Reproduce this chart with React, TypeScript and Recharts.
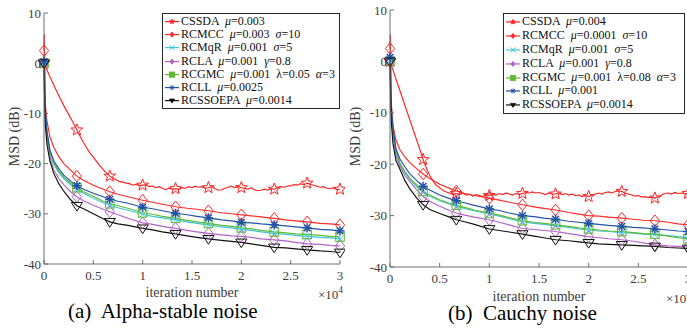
import React from 'react';
import { ComposedChart, Line, Scatter, XAxis, YAxis, Legend } from 'recharts';

// ---------- data ----------
// x in units of 10^4 iterations
const GRID = [0, 0.004, 0.012, 0.03, 0.06, 0.1, 0.15, 0.2, 0.27, 1 / 3, 0.4, 0.5, 0.6, 2 / 3, 0.75, 0.85, 1, 1.1, 1.2, 4 / 3,
  1.45, 1.55, 5 / 3, 1.8, 1.9, 2, 2.1, 2.2, 7 / 3, 2.45, 2.55, 8 / 3, 2.8, 2.9, 3];
const CSSDA_GRID = Array.from({ length: 91 }, (_, k) => k / 30);

const X_TICKS = [0, 0.5, 1, 1.5, 2, 2.5, 3];
const X_TICK_LABELS = ['0', '0.5', '1', '1.5', '2', '2.5', '3'];
const Y_TICKS = [-40, -30, -20, -10, 0, 10];

const NAMES = ['CSSDA', 'RCMCC', 'RCMqR', 'RCLA', 'RCGMC', 'RCLL', 'RCSSOEPA'];
const A_PARAMS = ['μ=0.003', 'μ=0.003  σ=10', 'μ=0.001  σ=5', 'μ=0.001  γ=0.8', 'μ=0.001  λ=0.05  α=3', 'μ=0.0025', 'μ=0.0014'];
const B_PARAMS = ['μ=0.004', 'μ=0.0001  σ=10', 'μ=0.001  σ=5', 'μ=0.001  γ=0.8', 'μ=0.001  λ=0.08  α=3', 'μ=0.001', 'μ=0.0014'];
const COLORS = ['#ff2222', '#ff2a2a', '#3fc6dc', '#b462c6', '#5cba33', '#2152a8', '#111111'];
const MARKERS = ['star', 'diamond', 'x', 'diamond', 'square', 'asterisk', 'triDown'];

// (a) Alpha-stable noise
const A_CSSDA = [
  0, -1.5, -3.0, -4.4, -5.8, -7.1, -8.4, -9.6, -10.8, -12.0, -13.3,
  -14.6, -15.8, -16.9, -17.9, -18.7, -19.6, -20.4, -21.2, -21.9, -22.5,
  -22.9, -23.2, -23.6, -23.7, -23.9, -24.0, -24.3, -24.1, -24.4, -24.3,
  -24.2, -24.6, -24.5, -24.8, -24.6, -24.9, -25.2, -24.9, -25.1, -25.0,
  -25.2, -24.8, -24.9, -24.6, -24.8, -24.5, -24.7, -24.6, -24.9, -24.8,
  -24.6, -25.0, -25.3, -25.2, -24.9, -24.7, -24.5, -24.8, -24.6, -24.8,
  -24.9, -25.1, -24.8, -25.2, -25.4, -25.3, -25.1, -25.3, -25.0, -25.1,
  -24.8, -24.6, -24.7, -24.5, -24.4, -24.2, -24.3, -24.0, -24.2, -23.9,
  -24.1, -24.3, -24.5, -24.7, -24.6, -24.9, -25.0, -24.8, -25.2, -25.1,
];
const A_RCMCC = [2.5, 5.8, -8, -11.5, -14.7, -16.8, -18.6, -20.0, -21.3, -22.5,
  -23.3, -24.3, -25.1, -25.6, -26.1, -26.6, -27.3, -27.7, -28.1, -28.6,
  -28.9, -29.1, -29.4, -29.8, -30.0, -30.2, -30.4, -30.6, -30.9, -31.2,
  -31.4, -31.6, -31.9, -32.0, -32.2];
const A_RCMQR = [0, -3, -9.8, -14, -17.8, -20.2, -21.8, -23.0, -24.2, -25.1,
  -25.9, -26.9, -27.8, -28.3, -28.8, -29.3, -30.1, -30.5, -30.8, -31.2,
  -31.6, -31.9, -32.2, -32.6, -32.8, -33.1, -33.3, -33.6, -33.9, -34.1,
  -34.3, -34.5, -34.7, -34.8, -35.0];
const A_RCLA = [0, -4, -10.5, -14.8, -18.7, -21.3, -23.0, -24.2, -25.6, -26.6,
  -27.4, -28.3, -29.1, -29.6, -30.2, -30.9, -31.8, -32.1, -32.5, -32.9,
  -33.3, -33.6, -33.9, -34.2, -34.4, -34.5, -34.7, -35.0, -35.2, -35.4,
  -35.7, -36.0, -36.1, -36.3, -36.4];
const A_RCGMC = [0, -3, -9.5, -13.8, -17.6, -19.9, -21.5, -22.7, -23.9, -24.8,
  -25.6, -26.5, -27.5, -28.0, -28.4, -28.9, -29.8, -30.1, -30.5, -30.9,
  -31.3, -31.6, -31.9, -32.3, -32.5, -32.8, -33.0, -33.3, -33.6, -33.8,
  -34.0, -34.1, -34.3, -34.5, -34.6];
const A_RCLL = [0.3, 1.5, -9, -13.5, -17.3, -19.5, -21.0, -22.3, -23.5, -24.4,
  -25.1, -25.9, -26.6, -27.1, -27.5, -27.9, -28.7, -29.0, -29.4, -29.9,
  -30.2, -30.5, -30.8, -31.2, -31.4, -31.7, -31.8, -32.0, -32.2, -32.4,
  -32.6, -32.8, -33.1, -33.2, -33.4];
const A_RCSSOEPA = [0, -5, -12, -16.2, -19.5, -22.0, -24.0, -25.5, -27.2, -28.4,
  -29.0, -30.0, -31.0, -31.6, -32.0, -32.3, -32.9, -33.2, -33.6, -34.0,
  -34.4, -34.7, -35.0, -35.3, -35.5, -35.7, -36.0, -36.3, -36.7, -36.8,
  -37.0, -37.2, -37.4, -37.5, -37.7];

// (b) Cauchy noise
const B_CSSDA = [
  0, -1.9, -3.8, -5.7, -7.6, -9.5, -11.4, -13.3, -15.2, -17.1, -19.1,
  -20.8, -22.2, -23.3, -24.1, -24.6, -25.1, -25.4, -25.6, -25.9, -25.7,
  -25.9, -25.6, -26.0, -25.8, -26.2, -25.9, -26.1, -26.3, -25.9, -26.1,
  -25.8, -26.0, -25.7, -25.9, -25.6, -25.8, -26.0, -25.7, -25.9, -25.7,
  -25.5, -25.6, -25.4, -25.6, -25.5, -25.7, -25.9, -25.6, -25.8, -25.8,
  -25.6, -25.9, -25.7, -26.0, -25.8, -26.1, -26.0, -26.3, -26.1, -26.3,
  -26.0, -25.8, -25.6, -25.8, -25.5, -25.4, -25.6, -25.3, -25.2, -25.3,
  -25.6, -25.8, -26.0, -26.2, -26.1, -26.4, -26.3, -26.5, -26.4, -26.6,
  -26.3, -26.0, -25.7, -25.6, -25.8, -25.5, -25.7, -25.6, -25.8, -25.7,
];
const B_RCMCC = [2.5, 5.2, -8, -12.5, -15.3, -17.2, -18.6, -19.7, -20.9, -21.9,
  -22.8, -23.9, -24.7, -25.2, -25.7, -26.1, -26.6, -27.0, -27.4, -27.9,
  -28.3, -28.6, -28.9, -29.4, -29.7, -30.0, -30.1, -30.3, -30.5, -30.7,
  -30.9, -31.0, -31.3, -31.6, -31.8];
const B_RCMQR = [0, -3, -9.3, -13.8, -17.5, -20.0, -21.7, -23.0, -24.4, -25.5,
  -26.2, -27.1, -27.8, -28.2, -28.6, -29.1, -29.7, -30.1, -30.6, -31.2,
  -31.5, -31.7, -32.0, -32.3, -32.6, -32.8, -33.0, -33.1, -33.3, -33.4,
  -33.6, -33.7, -33.9, -34.1, -34.3];
const B_RCLA = [0, -4, -10, -14.5, -18.3, -20.4, -22.2, -23.4, -25.0, -26.3,
  -27.2, -28.2, -29.0, -29.5, -29.9, -30.3, -30.8, -31.3, -31.8, -32.5,
  -32.7, -32.9, -33.1, -33.5, -33.8, -34.1, -34.3, -34.5, -34.7, -35.0,
  -35.3, -35.7, -35.9, -36.0, -36.1];
const B_RCGMC = [0, -3, -9, -13.5, -17.3, -19.8, -21.4, -22.7, -24.1, -25.3,
  -26.0, -26.9, -27.6, -28.0, -28.4, -28.9, -29.5, -29.9, -30.4, -31.0,
  -31.3, -31.5, -31.8, -32.1, -32.4, -32.6, -32.8, -33.0, -33.1, -33.3,
  -33.5, -33.6, -34.0, -34.3, -34.5];
const B_RCLL = [0.8, 1.5, -8.5, -12.8, -17.0, -19.0, -20.5, -21.9, -23.2, -24.3,
  -25.0, -26.0, -26.7, -27.1, -27.5, -28.0, -28.7, -29.0, -29.5, -30.0,
  -30.2, -30.5, -30.7, -31.1, -31.3, -31.5, -31.7, -31.9, -32.1, -32.3,
  -32.4, -32.6, -32.8, -33.0, -33.1];
const B_RCSSOEPA = [0, -5, -11.5, -16, -19.3, -21.0, -23.2, -24.8, -26.6, -27.9,
  -28.8, -29.6, -30.3, -30.8, -31.2, -31.7, -32.6, -32.9, -33.2, -33.6,
  -34.0, -34.3, -34.7, -34.9, -35.1, -35.3, -35.5, -35.6, -35.7, -35.8,
  -35.9, -36.0, -36.2, -36.3, -36.4];

const A_SERIES = [A_CSSDA, A_RCMCC, A_RCMQR, A_RCLA, A_RCGMC, A_RCLL, A_RCSSOEPA];
const B_SERIES = [B_CSSDA, B_RCMCC, B_RCMQR, B_RCLA, B_RCGMC, B_RCLL, B_RCSSOEPA];

// ---------- styling ----------
const SERIF = '"Liberation Serif", "Times New Roman", serif';
const AXIS_COLOR = '#6f6f6f';
const TICK_TEXT = '#3c3c3c';

function MarkerShape({ kind, cx, cy, color, s, filled }: any) {
  if (cx == null || cy == null) return null;
  const fill = filled ? color : 'none';
  const sw = filled ? 0.8 : 1;
  switch (kind) {
    case 'star': {
      const pts: string[] = [];
      for (let i = 0; i < 10; i++) {
        const r = i % 2 === 0 ? s : s * 0.42;
        const a = -Math.PI / 2 + (i * Math.PI) / 5;
        pts.push(`${cx + r * Math.cos(a)},${cy + r * Math.sin(a)}`);
      }
      return <polygon points={pts.join(' ')} fill={fill} stroke={color} strokeWidth={sw} />;
    }
    case 'diamond':
      return <polygon points={`${cx},${cy - s} ${cx + s * 0.8},${cy} ${cx},${cy + s} ${cx - s * 0.8},${cy}`} fill={fill} stroke={color} strokeWidth={sw} />;
    case 'square':
      return <rect x={cx - s} y={cy - s} width={2 * s} height={2 * s} fill={fill} stroke={color} strokeWidth={sw} />;
    case 'triDown':
      return <polygon points={`${cx - s},${cy - s * 0.6} ${cx + s},${cy - s * 0.6} ${cx},${cy + s * 0.95}`} fill={fill} stroke={color} strokeWidth={sw} />;
    case 'asterisk': {
      const d = s * 0.72;
      return (
        <g stroke={color} strokeWidth={filled ? 1 : 1.5}>
          <line x1={cx - s} y1={cy} x2={cx + s} y2={cy} />
          <line x1={cx} y1={cy - s} x2={cx} y2={cy + s} />
          <line x1={cx - d} y1={cy - d} x2={cx + d} y2={cy + d} />
          <line x1={cx - d} y1={cy + d} x2={cx + d} y2={cy - d} />
        </g>
      );
    }
    case 'x':
    default:
      return (
        <g stroke={color} strokeWidth={1}>
          <line x1={cx - s} y1={cy - s} x2={cx + s} y2={cy + s} />
          <line x1={cx - s} y1={cy + s} x2={cx + s} y2={cy - s} />
        </g>
      );
  }
}

const MARKER_SIZE: Record<string, number> = { star: 6.2, diamond: 5.8, x: 3.5, square: 4.3, asterisk: 4.6, triDown: 5.6 };

function Greek({ text }: { text: string }) {
  return (
    <>
      {Array.from(text).map((ch, i) =>
        'μσγα'.includes(ch) ? <i key={i}>{ch}</i> : <React.Fragment key={i}>{ch}</React.Fragment>
      )}
    </>
  );
}

function LegendBox({ params, rowH }: { params: string[]; rowH: number }) {
  return (
    <div
      style={{
        boxSizing: 'border-box',
        border: '1px solid #262626',
        background: '#fff',
        padding: '1px 0 1px 1px',
        fontFamily: SERIF,
        fontSize: 12,
        color: '#111',
        lineHeight: `${rowH}px`,
      }}
    >
      {NAMES.map((n, i) => (
        <div key={n} style={{ display: 'flex', alignItems: 'center', whiteSpace: 'pre', height: rowH }}>
          <svg width={16} height={rowH} style={{ flex: 'none' }}>
            <line x1={1} x2={15} y1={rowH / 2} y2={rowH / 2} stroke={COLORS[i]} strokeWidth={1.2} />
            <MarkerShape kind={MARKERS[i]} cx={8} cy={rowH / 2} color={COLORS[i]} s={2.6} filled />
          </svg>
          <span style={{ marginLeft: 1 }}>
            {n}
            {'  '}
            <Greek text={params[i]} />
          </span>
        </div>
      ))}
    </div>
  );
}

function isMarkerX(x: number) {
  return Math.abs(x * 3 - Math.round(x * 3)) < 1e-6;
}

type PanelProps = {
  left: number;
  width: number;
  margin: { top: number; right: number; bottom: number; left: number };
  series: number[][];
  params: string[];
  legend: { left: number; top: number; width: number; rowH: number };
  yLabelGap: number;
  xLabelDy: number;
};

function Panel({ left, width, margin, series, params, legend, yLabelGap, xLabelDy }: PanelProps) {
  const lines = series.map((vals, i) => {
    const xs = i === 0 ? CSSDA_GRID : GRID;
    return xs.map((x, k) => ({ x, y: vals[k] }));
  });

  const yLabel = (props: any) => {
    const vb = props.viewBox || { x: 0, y: 0, width: 0, height: 0 };
    const cx = vb.x + vb.width - yLabelGap;
    const cy = vb.y + vb.height / 2 - 2;
    return (
      <text x={cx} y={cy} transform={`rotate(-90 ${cx} ${cy})`} textAnchor="middle" fontFamily={SERIF} fontSize={14} fill={TICK_TEXT}>
        MSD (dB)
      </text>
    );
  };

  const xLabel = (props: any) => {
    const vb = props.viewBox || { x: 0, y: 0, width: 0, height: 0 };
    return (
      <g>
        <text x={vb.x + vb.width / 2} y={vb.y + xLabelDy} textAnchor="middle" fontFamily={SERIF} fontSize={14} fill={TICK_TEXT}>
          iteration number
        </text>
        <text x={vb.x + vb.width + 3} y={vb.y + xLabelDy + 2} textAnchor="end" fontFamily={SERIF} fontSize={13} fill={TICK_TEXT}>
          ×10
          <tspan dy={-6} fontSize={9.5}>4</tspan>
        </text>
      </g>
    );
  };

  return (
    <div style={{ position: 'absolute', left, top: 0 }}>
      <ComposedChart width={width} height={330} margin={margin}>
        <XAxis
          dataKey="x"
          type="number"
          domain={[0, 3]}
          ticks={X_TICKS}
          interval={0}
          height={30}
          tickSize={-4}
          tickMargin={11}
          stroke={AXIS_COLOR}
          tick={{ fill: TICK_TEXT, fontSize: 13, fontFamily: SERIF }}
          tickFormatter={(v: number) => X_TICK_LABELS[X_TICKS.indexOf(v)] ?? String(v)}
          label={xLabel}
        />
        <XAxis
          xAxisId="top"
          orientation="top"
          type="number"
          domain={[0, 3]}
          ticks={X_TICKS}
          interval={0}
          height={0}
          tickSize={-4}
          stroke={AXIS_COLOR}
          tickFormatter={() => ''}
        />
        <YAxis
          type="number"
          domain={[-40, 10]}
          ticks={Y_TICKS}
          interval={0}
          width={40}
          tickSize={-4}
          tickMargin={7}
          stroke={AXIS_COLOR}
          tick={{ fill: TICK_TEXT, fontSize: 13, fontFamily: SERIF }}
          label={yLabel}
        />
        <YAxis
          yAxisId="right"
          orientation="right"
          type="number"
          domain={[-40, 10]}
          ticks={Y_TICKS}
          interval={0}
          width={0}
          tickSize={-4}
          stroke={AXIS_COLOR}
          tickFormatter={() => ''}
        />
        {lines.map((pts, i) => (
          <Line
            key={`l${i}`}
            data={pts}
            dataKey="y"
            type="linear"
            stroke={COLORS[i]}
            strokeWidth={1.15}
            dot={false}
            activeDot={false}
            isAnimationActive={false}
          />
        ))}
        {lines.map((pts, i) => (
          <Scatter
            key={`m${i}`}
            data={pts.filter((p) => isMarkerX(p.x))}
            dataKey="y"
            isAnimationActive={false}
            shape={(p: any) => <MarkerShape kind={MARKERS[i]} cx={p.cx} cy={p.cy} color={COLORS[i]} s={MARKER_SIZE[MARKERS[i]]} />}
          />
        ))}
        <Legend
          layout="vertical"
          align="center"
          verticalAlign="middle"
          wrapperStyle={{ left: legend.left, top: legend.top, width: legend.width, right: 'auto', bottom: 'auto' }}
          content={() => <LegendBox params={params} rowH={legend.rowH} />}
        />
      </ComposedChart>
    </div>
  );
}

export default function App() {
  return (
    <div
      style={{
        position: 'absolute',
        left: 0,
        top: 0,
        width: 687,
        height: 330,
        overflow: 'hidden',
        background: '#fff',
      }}
    >
      <Panel
        left={0}
        width={345}
        margin={{ top: 13, right: 5, bottom: 36, left: 4 }}
        series={A_SERIES}
        params={A_PARAMS}
        legend={{ left: 162, top: 13, width: 178, rowH: 13.2 }}
        yLabelGap={25}
        xLabelDy={32.5}
      />
      <Panel
        left={345}
        width={345}
        margin={{ top: 10, right: 2, bottom: 33, left: 5 }}
        series={B_SERIES}
        params={B_PARAMS}
        legend={{ left: 158, top: 13, width: 182, rowH: 13.9 }}
        yLabelGap={30}
        xLabelDy={34}
      />
      <svg width={687} height={330} style={{ position: 'absolute', left: 0, top: 0, pointerEvents: 'none' }}>
        <text x={68} y={317.5} fontFamily={SERIF} fontSize={21} fill="#000" style={{ whiteSpace: 'pre' }} xmlSpace="preserve">
          (a)  Alpha-stable noise
        </text>
        <text x={448} y={319.5} fontFamily={SERIF} fontSize={21} fill="#000" style={{ whiteSpace: 'pre' }} xmlSpace="preserve">
          (b)  Cauchy noise
        </text>
      </svg>
    </div>
  );
}
